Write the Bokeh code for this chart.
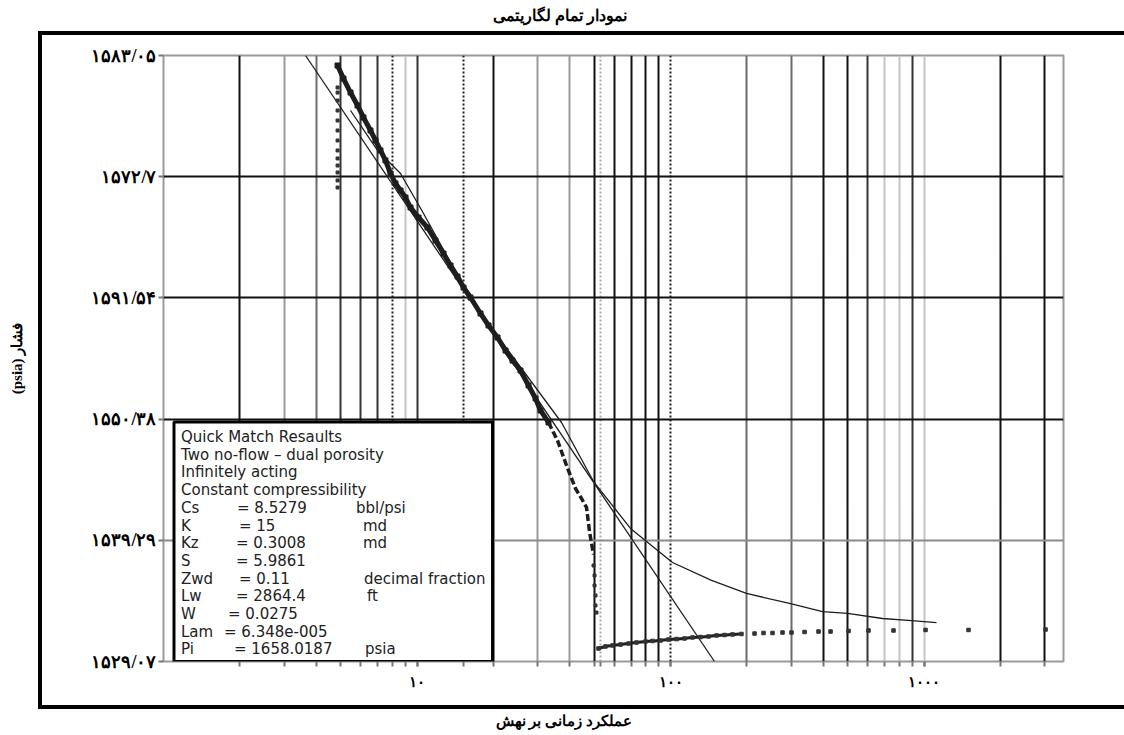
from bokeh.plotting import figure
from bokeh.models import (FixedTicker, Grid, BoxAnnotation, ColumnDataSource, Range1d,
                          LinearAxis, Title)
from bokeh.core.properties import value
from bokeh.embed import file_html
from bokeh.resources import INLINE

# ---------------- data ----------------
title_text = "نمودار تمام لگاریتمی"
x_label = "عملکرد زمانی بر نهش"
y_label = "\u202bفشار (psia)\u202c"

# y axis: printed labels (bottom -> top), evenly spaced grid
y_tick_labels = ["۱۵۲۹/۰۷", "۱۵۳۹/۲۹", "۱۵۵۰/۳۸", "۱۵۹۱/۵۴", "۱۵۷۲/۷", "۱۵۸۳/۰۵"]
y_min, y_max = 1529.07, 1583.05
y_ticks = [1529.07, 1539.866, 1550.662, 1561.458, 1572.254, 1583.05]

x_tick_values = [10, 100, 1000]
x_tick_labels = ["۱۰", "۱۰۰", "۱۰۰۰"]
x_min, x_max = 1.0, 3550.0

# vertical grid lines grouped by style
vgrid_black = [2, 20, 50, 60, 70, 80, 90, 400, 500, 2000, 3000]
vgrid_dark = [5, 6, 7, 10, 600, 900]
vgrid_mid = [4, 200, 300]
vgrid_gray = [3, 30, 40]
vgrid_light = [9, 700, 800, 1000]
vgrid_dotted = [8, 15.3, 100]
vgrid_dotted_light = [53]
hgrid_black = [1550.662, 1561.458, 1572.254]
hgrid_gray = [1539.866]

# early-time points (vertical column)
t_early = [4.86, 4.86, 4.86, 4.86, 4.86, 4.86, 4.86, 4.86, 4.86, 4.86, 4.86, 4.86, 4.86]
p_early = [1571.29, 1571.92, 1572.63, 1573.25, 1573.88, 1574.59, 1575.48,
           1576.37, 1577.26, 1578.15, 1579.04, 1579.75, 1580.20]

# main drawdown data (dense band)
t_main = [4.858, 5.129, 5.467, 5.826, 6.151, 6.555, 6.860, 7.178, 7.510, 7.860,
          8.226, 8.610, 9.008, 9.427, 10.14, 11.00, 11.83, 12.72, 13.56, 14.45,
          15.26, 16.26, 17.80, 19.15, 20.78, 22.35, 23.81, 25.60, 27.54, 29.35,
          30.71, 33.02]
p_main = [1582.16, 1581.00, 1579.75, 1578.60, 1577.53, 1576.37, 1575.48, 1574.59, 1573.70, 1572.54,
          1571.65, 1571.02, 1570.40, 1569.51, 1568.62, 1567.73, 1566.57, 1565.41, 1564.34, 1563.36,
          1562.38, 1561.49, 1560.07, 1559.00, 1557.93, 1556.77, 1555.88, 1554.99, 1553.66, 1552.50,
          1551.43, 1550.36]
# steep drop at end of drawdown
t_drop = [33.02, 35.83, 38.88, 42.19, 44.56, 46.63, 47.92, 48.80, 49.70]
p_drop = [1550.36, 1548.76, 1546.53, 1544.48, 1543.59, 1542.79, 1540.65, 1539.58, 1538.60]
t_drop_pts = [49.70, 50.15, 50.15, 50.60, 50.60, 51.06]
p_drop_pts = [1537.62, 1536.73, 1535.84, 1534.95, 1534.06, 1533.43]

# late-time (recovery) data
t_late = [52.00, 55.41, 59.05, 63.51, 68.30, 73.43, 79.68, 84.92, 91.32, 98.2,
          105.6, 113.6, 122.1, 131.3, 141.2, 151.9, 163.3, 175.6, 190.5, 214.5,
          232.8, 252.6, 276.6, 300.1, 337.9, 383.6, 427.9, 503.8, 604.0, 758.0,
          1014, 1498, 3016]
p_late = [1530.23, 1530.41, 1530.50, 1530.58, 1530.67, 1530.76, 1530.85, 1530.90, 1530.94, 1531.03,
          1531.07, 1531.12, 1531.21, 1531.25, 1531.30, 1531.39, 1531.43, 1531.48, 1531.52, 1531.56,
          1531.61, 1531.61, 1531.65, 1531.65, 1531.70, 1531.74, 1531.74, 1531.79, 1531.83, 1531.83,
          1531.88, 1531.88, 1531.92]
n_late_dense = 19

# straight-line fit
t_line = [3.633, 149.1]
p_line = [1583.05, 1529.07]

# model curve
t_model = [5.467, 6.986, 8.610, 10.61, 15.82, 20.03, 37.16, 49.70, 69.53, 101.8,
           145.1, 199.4, 294.7, 397.8, 499.0, 686.1, 892.9, 1120]
p_model = [1578.15, 1574.59, 1572.54, 1568.98, 1561.85, 1558.55, 1550.36, 1545.10, 1540.92, 1537.89,
           1536.29, 1535.13, 1534.24, 1533.52, 1533.35, 1532.90, 1532.72, 1532.54]

# result box
box_names = ["Quick Match Resaults", "Two no-flow \u2013 dual porosity", "Infinitely acting",
             "Constant compressibility", "Cs", "K", "Kz", "S", "Zwd", "Lw", "W", "Lam", "Pi"]
box_values = ["", "", "", "", "= 8.5279", "= 15", "=  0.3008", "=  5.9861", "=  0.11",
              "=  2864.4", "=  0.0275", "=  6.348e-005", "= 1658.0187"]
box_units = ["", "", "", "", "bbl/psi", "md", "md", "", "decimal fraction", "ft", "", "", "psia"]
box_left, box_right = 1.10, 19.86
box_bottom, box_top = 1529.07, 1550.40

# ---------------- figure ----------------
frame_css = ("linear-gradient(#000,#000) 38px 31px / 1090px 4px no-repeat, "
             "linear-gradient(#000,#000) 38px 705px / 1090px 4px no-repeat, "
             "linear-gradient(#000,#000) 38px 31px / 4px 678px no-repeat, #ffffff")

p = figure(width=1124, height=735, x_axis_type="log",
           x_range=Range1d(x_min, x_max), y_range=Range1d(y_min, y_max),
           output_backend="svg", toolbar_location=None,
           min_border_left=163, min_border_right=61, min_border_top=55, min_border_bottom=74,
           styles={"background": frame_css})
p.background_fill_color = "white"
p.border_fill_color = None
p.outline_line_color = "#9a9a9a"
p.outline_line_width = 2
p.xgrid.visible = False
p.ygrid.visible = False

xa = p.xaxis[0]
ya = p.yaxis[0]

all_v = vgrid_black + vgrid_dark + vgrid_mid + vgrid_gray + vgrid_light + vgrid_dotted + vgrid_dotted_light

xa.ticker = FixedTicker(ticks=x_tick_values, minor_ticks=all_v)
xa.major_label_overrides = dict(zip(x_tick_values, x_tick_labels))
xa.axis_line_color = None
xa.major_tick_line_color = "#777777"
xa.minor_tick_line_color = "#777777"
xa.major_tick_line_width = 2
xa.minor_tick_line_width = 2
xa.major_tick_in = 0
xa.major_tick_out = 5
xa.minor_tick_in = 0
xa.minor_tick_out = 5
xa.major_label_standoff = 7
xa.major_label_text_font = "Liberation Serif"
xa.major_label_text_font_size = "15px"
xa.major_label_text_font_style = "bold"
xa.major_label_text_color = "black"

ya.ticker = FixedTicker(ticks=y_ticks)
ya.major_label_overrides = dict(zip(y_ticks, y_tick_labels))
ya.axis_line_color = None
ya.major_tick_line_color = "#777777"
ya.major_tick_line_width = 2
ya.major_tick_in = 0
ya.major_tick_out = 5
ya.minor_tick_line_color = None
ya.major_label_standoff = 2
ya.major_label_text_font = "Liberation Serif"
ya.major_label_text_font_size = "18px"
ya.major_label_text_font_style = "bold"
ya.major_label_text_color = "black"
ya.axis_label = y_label
ya.axis_label_text_font = "Liberation Serif"
ya.axis_label_text_font_size = "15px"
ya.axis_label_text_font_style = "bold"
ya.axis_label_text_color = "black"
ya.axis_label_standoff = 63

def spacer_axis(size):
    # an empty axis (blank label) used only to reserve space between the frame and a title
    return LinearAxis(ticker=FixedTicker(ticks=[]), major_tick_out=0, major_tick_in=0,
                      major_tick_line_color=None, minor_tick_line_color=None,
                      minor_tick_out=0, axis_line_color=None, major_label_standoff=0,
                      major_label_text_font_size="1px",
                      axis_label=" ", axis_label_standoff=size,
                      axis_label_text_font_size="1px", axis_label_text_color="white")

# title
p.add_layout(spacer_axis(28), "above")
p.title.text = title_text
p.title.align = "left"
p.title.offset = 329
p.title.standoff = 0
p.title.vertical_align = "bottom"
p.title.text_font = "Liberation Serif"
p.title.text_font_size = "16px"
p.title.text_font_style = "bold"
p.title.text_color = "black"

# x label as a bottom title
p.add_layout(spacer_axis(16), "below")
p.add_layout(Title(text=x_label, align="left", offset=332, standoff=0, vertical_align="top",
                   text_font="Liberation Serif", text_font_size="15px",
                   text_font_style="bold", text_color="black"), "below")

def add_grid(dim, ticks, color, dash="solid", width=2):
    g = Grid(dimension=dim, ticker=FixedTicker(ticks=ticks), grid_line_color=color,
             grid_line_width=width, grid_line_dash=dash)
    p.add_layout(g)

add_grid(0, vgrid_light, "#c4c4c4")
add_grid(0, vgrid_gray, "#9a9a9a")
add_grid(0, vgrid_mid, "#6a6a6a")
add_grid(0, vgrid_dark, "#333333")
add_grid(0, vgrid_black, "#111111")
add_grid(0, vgrid_dotted_light, "#aaaaaa", "2 2")
add_grid(0, vgrid_dotted, "#222222", "2 2")
add_grid(1, hgrid_gray, "#8a8a8a")
add_grid(1, hgrid_black, "#111111")

# data
ink = "#1e1e1e"
p.line(t_line, p_line, line_color=ink, line_width=1.3)
p.line(t_model, p_model, line_color=ink, line_width=1.3)
p.scatter(t_early, p_early, marker="square", size=3, color="#333333")
p.line(t_main, p_main, line_color=ink, line_width=5)
p.scatter(t_main, p_main, marker="square", size=5, color=ink)
p.line(t_drop, p_drop, line_color=ink, line_width=3.5, line_dash="7 3")
p.scatter(t_drop_pts, p_drop_pts, marker="square", size=3, color="#333333")
p.line(t_late[:n_late_dense], p_late[:n_late_dense], line_color=ink, line_width=3, line_dash="6 2")
p.scatter(t_late, p_late, marker="square", size=3.5, color="#333333")

# result box
p.add_layout(BoxAnnotation(left=box_left, right=box_right, bottom=box_bottom, top=box_top,
                           fill_color="white", fill_alpha=1.0, line_color="black",
                           line_alpha=1.0, line_width=3, level="annotation"))
n = len(box_names)
yoff = [15 + 17.7 * i for i in range(n)]
val_dx = [0, 0, 0, 0, 63, 65, 62, 62, 65, 62, 54, 50, 60]
unit_dx = [0, 0, 0, 0, 182, 189, 189, 0, 190, 193, 0, 0, 191]
src = ColumnDataSource(dict(x=[box_left] * n, y=[box_top] * n, name=box_names,
                            val=box_values, unit=box_units, yoff=yoff,
                            ndx=[7] * n, vdx=val_dx, udx=unit_dx))
for col, dxcol in (("name", "ndx"), ("val", "vdx"), ("unit", "udx")):
    p.text(x="x", y="y", text=col, source=src, x_offset=dxcol, y_offset="yoff",
           text_font=value("DejaVu Sans"), text_font_size="15px", text_color="#222222",
           text_baseline="middle", text_align="left", level="overlay")

open("out.html", "w").write(file_html(p, INLINE))
